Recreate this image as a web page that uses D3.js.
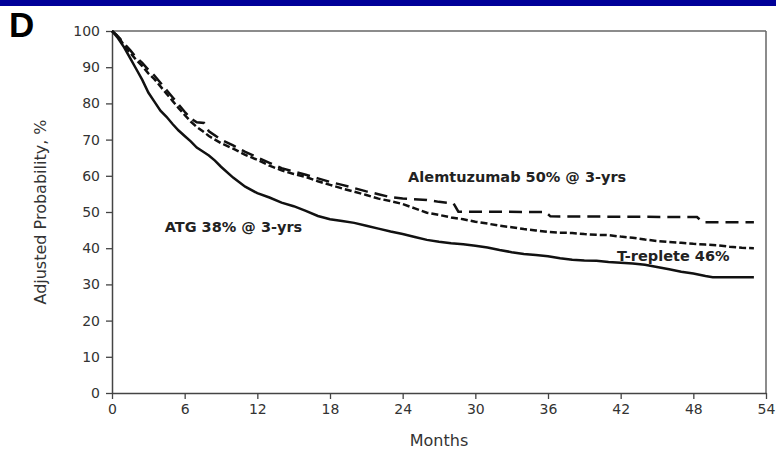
<!DOCTYPE html>
<html><head><meta charset="utf-8">
<script src="https://cdn.jsdelivr.net/npm/d3@7/dist/d3.min.js"></script>
<style>
html,body{margin:0;padding:0;background:#fff;}
svg{display:block;}
</style></head>
<body>
<script>
// ---- data ----
const xTicks = [0,6,12,18,24,30,36,42,48,54];
const yTicks = [0,10,20,30,40,50,60,70,80,90,100];

const atgMonths = [0,0.5,1,1.5,2,2.5,3,3.5,4,4.5,5,5.5,6,6.5,7,7.5,8,8.5,9,10,11,12,13,14,15,16,17,18,19,20,21,22,23,24,25,26,27,28,29,30,31,32,33,34,35,36,37,38,39,40,41,42,43,44,45,46,47,48,49,49.6,53];
const atgValues = [100,98,95.5,92.5,89.5,86.5,83,80.5,78,76.3,74.3,72.5,71,69.5,67.8,66.7,65.6,64.2,62.5,59.5,57,55.2,54,52.6,51.6,50.3,48.9,48,47.5,47,46.2,45.4,44.6,43.9,43.1,42.3,41.8,41.4,41.1,40.7,40.2,39.5,38.9,38.4,38.1,37.8,37.2,36.8,36.6,36.5,36.2,36,35.8,35.4,34.8,34.2,33.5,33,32.3,32,32];

const trepMonths = [0,0.5,1,1.5,2,2.5,3,3.5,4,4.5,5,5.5,6,6.5,7,7.5,8,9,10,11,12,13,14,15,16,17,18,19,20,21,22,23,24,25,26,27,28,29,30,31,32,33,34,35,36,37,38,39,40,41,42,43,44,45,46,47,48,49,50,51,52,53];
const trepValues = [100,98.5,96,94,92,90.3,88.3,86.7,84.7,82.7,80.7,78.7,76.8,75,73.5,72.3,71,69,67.5,65.8,64.4,62.8,61.5,60.5,59.7,58.5,57.5,56.5,55.6,54.7,53.7,53,52.2,51,49.8,49.2,48.5,48,47.3,46.8,46.2,45.8,45.3,44.9,44.5,44.3,44.2,43.9,43.7,43.6,43.2,42.9,42.4,42,41.7,41.5,41.2,41,40.8,40.4,40.1,40];

const alemMonths = [0,0.5,1,1.5,2,2.5,3,3.5,4,4.5,5,5.5,6,6.5,7,7.6,8,9,10,11,12,13,14,15,16,17,18,19,20,21,22,23,24,26,27,28.2,28.6,35.8,36.2,48.3,48.8,53];
const alemValues = [100,98.5,96.5,94.7,92.7,91.2,89.3,87.7,85.7,83.7,81.7,79.7,77.7,75.8,74.8,74.6,72.3,70,68.4,66.6,65.1,63.6,62.1,61.2,60.3,59.3,58.3,57.5,56.6,55.7,54.9,54.1,53.7,53.3,52.8,52.4,50.1,50,48.8,48.6,47.2,47.2];

const labels = [
  {text:"Alemtuzumab 50% @ 3-yrs", m:24.45, v:58.2},
  {text:"ATG 38% @ 3-yrs", m:4.35, v:44.6},
  {text:"T-replete 46%", m:41.7, v:36.4}
];

// ---- drawing ----
const W = 776, H = 459;
const svg = d3.select("body").append("svg").attr("width", W).attr("height", H);

svg.append("rect").attr("x",0).attr("y",0).attr("width",W).attr("height",6).attr("fill","#000099");

const x = d3.scaleLinear().domain([0,54]).range([112,766]);
const y = d3.scaleLinear().domain([0,100]).range([393,31]);

// frame top/right
svg.append("line").attr("x1",x(0)).attr("x2",x(54)).attr("y1",y(100)).attr("y2",y(100))
  .attr("stroke","#666").attr("stroke-width",1.5);
svg.append("line").attr("x1",x(54)).attr("x2",x(54)).attr("y1",y(100)).attr("y2",y(0))
  .attr("stroke","#666").attr("stroke-width",1.5);

const fontTick = "DejaVu Sans, Verdana, sans-serif";

const gx = svg.append("g").attr("transform",`translate(0,${y(0)})`)
  .call(d3.axisBottom(x).tickValues(xTicks).tickSize(6).tickPadding(5).tickSizeOuter(0));
const gy = svg.append("g").attr("transform",`translate(${x(0)},0)`)
  .call(d3.axisLeft(y).tickValues(yTicks).tickSize(6).tickPadding(6).tickSizeOuter(0));
[gx,gy].forEach(g=>{
  g.select(".domain").attr("stroke","#444").attr("stroke-width",1.5);
  g.selectAll(".tick line").attr("stroke","#444").attr("stroke-width",1.3);
  g.selectAll(".tick text").attr("fill","#333").style("font-family",fontTick).style("font-size","14px");
});

svg.append("text").attr("x",(x(0)+x(54))/2).attr("y",446).attr("text-anchor","middle")
  .style("font-family",fontTick).style("font-size","16px").attr("fill","#333").text("Months");
svg.append("text").attr("transform",`translate(46,${(y(0)+y(100))/2}) rotate(-90)`).attr("text-anchor","middle")
  .style("font-family",fontTick).style("font-size","16px").attr("fill","#333").text("Adjusted Probability, %");

svg.append("text").attr("x",9).attr("y",37)
  .style("font-family","'Liberation Sans Narrow', 'Arial Narrow', 'Liberation Sans', sans-serif")
  .style("font-weight","bold").style("font-size","35px").attr("fill","#000").text("D");

const line = d3.line().x(d=>x(d[0])).y(d=>y(d[1])).curve(d3.curveLinear);
const series = [
  {m:atgMonths, v:atgValues, dash:null},
  {m:trepMonths, v:trepValues, dash:"7,3"},
  {m:alemMonths, v:alemValues, dash:"13,7"}
];
series.forEach(s=>{
  const pts = s.m.map((mm,i)=>[mm,s.v[i]]);
  svg.append("path").attr("d",line(pts)).attr("fill","none").attr("stroke","#111")
    .attr("stroke-width",2.5).attr("stroke-dasharray",s.dash);
});

labels.forEach(l=>{
  svg.append("text").attr("x",x(l.m)).attr("y",y(l.v))
    .style("font-family",fontTick).style("font-weight","bold").style("font-size","14.5px")
    .attr("fill","#222").text(l.text);
});
</script>
</body></html>
